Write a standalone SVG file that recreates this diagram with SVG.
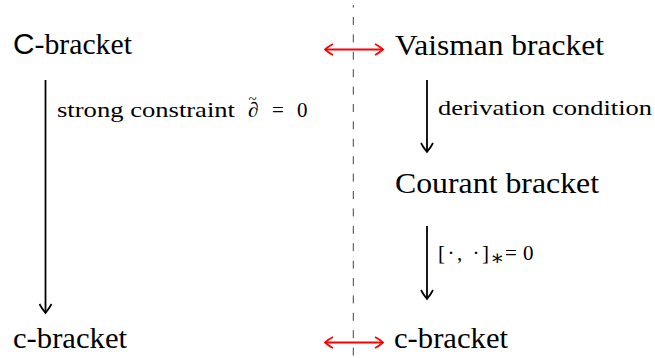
<svg xmlns="http://www.w3.org/2000/svg" width="655" height="358" viewBox="0 0 655 358">
<style>
text{font-family:'Liberation Serif','DejaVu Serif','Times New Roman',serif;fill:#000}
.t{font-size:29px}
.l{font-size:21px}
.ar{stroke:#000;stroke-width:1.8;fill:none}
.red{stroke:#ff0000;stroke-width:1.8;fill:none}
</style>
<defs>
<marker id="hb" viewBox="-10 -7 12 14" markerWidth="12" markerHeight="14" refX="0" refY="0" markerUnits="userSpaceOnUse" orient="auto">
<path d="M -9,-6 C -5,-4 -1.8,-1.4 0,0 C -1.8,1.4 -5,4 -9,6" stroke="#000" stroke-width="1.7" fill="none"/>
</marker>
<marker id="hr" viewBox="-10 -7 12 14" markerWidth="12" markerHeight="14" refX="0" refY="0" markerUnits="userSpaceOnUse" orient="auto-start-reverse">
<path d="M -8,-5.5 C -4.5,-3.8 -1.5,-1.3 0,0 C -1.5,1.3 -4.5,3.8 -8,5.5" stroke="#ff0000" stroke-width="1.7" fill="none"/>
</marker>
</defs>
<line x1="353.3" y1="5" x2="353.3" y2="358" stroke="#444" stroke-width="1" stroke-dasharray="8 9.4" stroke-dashoffset="5.4"/>
<g id="connectors">
<path class="ar" d="M45.5,80 L45.5,313" marker-end="url(#hb)"/>
<path class="ar" d="M427,80 L427,152" marker-end="url(#hb)"/>
<path class="ar" d="M427,226 L427,299" marker-end="url(#hb)"/>
<path class="red" d="M325,49.5 L383,49.5" marker-start="url(#hr)" marker-end="url(#hr)"/>
<path class="red" d="M325,342.5 L383,342.5" marker-start="url(#hr)" marker-end="url(#hr)"/>
<text class="l" x="57" y="117" textLength="178" lengthAdjust="spacingAndGlyphs">strong constraint</text>
<text class="l" x="248" y="117"><tspan font-style="italic">∂</tspan><tspan dx="-10" dy="-13" font-size="15">~</tspan></text>
<text class="l" x="272" y="117">=</text>
<text class="l" x="297" y="117">0</text>
<text class="l" x="438" y="115" textLength="214" lengthAdjust="spacingAndGlyphs">derivation condition</text>
<text class="l" x="438" y="260" textLength="51" lengthAdjust="spacing">[·, ·]</text>
<text class="l" x="490" y="265" font-size="13">∗</text>
<text class="l" x="505" y="260">=</text>
<text class="l" x="523" y="260">0</text>
</g>
<g id="n1"><text class="t" x="13" y="54" textLength="119" lengthAdjust="spacingAndGlyphs"><tspan style="font-family:'Liberation Sans','DejaVu Sans',sans-serif">C</tspan>-bracket</text></g>
<g id="n2"><text class="t" x="395" y="55" textLength="209" lengthAdjust="spacingAndGlyphs">Vaisman bracket</text></g>
<g id="n3"><text class="t" x="395" y="193" textLength="204" lengthAdjust="spacingAndGlyphs">Courant bracket</text></g>
<g id="n4"><text class="t" x="13" y="348" textLength="114" lengthAdjust="spacingAndGlyphs">c-bracket</text></g>
<g id="n5"><text class="t" x="394" y="348" textLength="114" lengthAdjust="spacingAndGlyphs">c-bracket</text></g>
</svg>
